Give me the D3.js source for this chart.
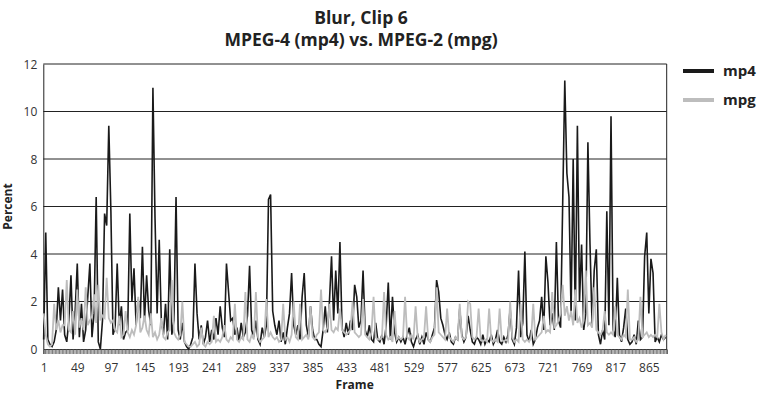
<!DOCTYPE html>
<html>
<head>
<meta charset="utf-8">
<script src="https://cdn.jsdelivr.net/npm/d3@7"></script>
<style>
  body { margin: 0; background: #fff; }
  text { font-family: 'Open Sans', sans-serif; }
</style>
</head>
<body>
<svg width="762" height="393"></svg>
<script>
// values, one point every 3 frames (frame 1, 4, 7, ...)
const mp4 = [
  0.4,4.9,0.4,0.2,0.1,0.3,0.8,2.6,1.2,2.5,
  0.6,0.3,1.2,3.1,0.4,1.6,3.6,0.5,1.9,0.3,
  0.8,2.2,3.6,0.5,1.5,6.4,0.3,0.0,1.2,5.7,
  5.2,9.4,5.8,0.6,0.9,3.6,1.0,1.8,0.4,0.7,
  0.8,5.7,2.0,3.4,1.0,2.1,1.3,4.3,1.2,3.1,
  1.6,1.0,11.0,5.5,1.5,4.6,1.2,0.6,1.9,0.4,
  4.2,0.6,1.2,6.4,0.8,0.4,1.1,0.3,0.1,0.0,
  0.2,0.5,3.6,1.5,0.4,1.0,0.2,0.5,1.2,0.3,
  0.8,0.4,1.3,0.6,1.8,0.9,0.5,3.6,2.4,1.2,
  1.3,0.6,0.9,0.3,1.1,0.5,0.7,1.4,3.5,0.8,
  0.5,1.2,0.4,0.2,0.9,0.5,1.0,6.3,6.5,1.6,
  1.0,0.6,1.2,0.3,0.7,0.2,0.9,1.5,3.2,1.0,
  0.6,1.0,0.4,2.2,3.2,1.0,0.5,1.8,0.8,0.4,
  0.4,0.2,0.1,0.8,1.8,0.7,2.0,3.9,1.2,3.3,
  1.5,4.5,0.9,0.5,1.1,0.6,1.2,0.8,2.7,2.2,
  0.9,1.2,3.3,0.8,0.5,1.0,0.4,0.3,1.1,0.4,
  0.3,0.6,0.2,1.0,2.8,0.4,2.2,0.7,0.3,0.5,
  0.3,0.5,0.2,0.6,0.9,0.3,0.1,0.4,0.6,0.2,
  0.5,0.2,0.7,0.4,0.3,0.6,0.9,2.9,2.4,1.3,
  1.0,0.6,0.4,0.7,0.3,0.2,0.5,0.4,1.7,0.6,
  0.3,0.5,1.4,0.8,0.3,0.2,0.5,0.4,0.2,0.6,
  0.2,0.4,0.3,0.6,0.2,0.4,0.8,0.3,0.2,0.5,
  0.3,0.6,1.7,0.4,0.2,0.9,3.3,0.5,1.1,4.1,
  0.6,0.3,0.8,0.2,0.4,0.9,1.2,2.2,0.8,3.9,
  2.8,1.0,1.5,0.8,4.5,1.2,0.9,6.1,11.3,7.4,
  6.4,1.5,8.0,1.2,9.4,2.0,4.4,0.8,1.5,8.7,
  4.4,1.0,3.3,4.2,0.6,0.2,0.8,0.4,5.8,1.0,
  9.8,0.8,0.5,3.0,0.6,0.3,0.9,1.7,0.4,0.2,
  0.3,0.6,0.2,1.2,0.4,0.5,3.9,4.9,1.5,3.8,
  3.2,0.3,0.5,0.3,0.6,0.4,0.5
];

const mpg = [
  1.5,0.6,0.2,0.1,0.2,1.9,0.8,1.2,0.7,1.0,
  1.0,2.9,0.8,0.7,1.6,0.6,2.5,0.9,1.3,0.8,
  2.6,1.0,1.2,1.4,2.3,1.1,2.7,1.2,1.4,1.3,
  3.0,1.3,1.1,1.2,0.8,0.7,1.4,0.5,0.6,1.6,
  0.7,0.5,0.8,0.6,1.0,2.2,0.7,0.9,1.4,0.8,
  0.6,1.5,0.5,0.7,0.4,0.6,1.3,0.5,0.4,0.7,
  0.8,2.9,0.7,0.5,0.4,0.6,2.0,0.3,0.2,0.1,
  0.1,0.2,0.3,0.1,0.2,0.9,0.2,0.1,0.3,0.2,
  0.3,1.4,0.3,0.4,0.3,0.5,1.0,0.4,0.3,0.5,
  0.4,1.9,0.4,0.3,0.5,0.4,2.4,0.4,0.3,0.6,
  0.4,2.4,0.5,0.3,0.4,0.5,2.1,0.5,0.7,0.5,
  0.4,0.5,0.3,0.4,1.9,0.4,0.5,0.3,0.6,2.0,
  0.5,0.4,1.9,0.4,0.5,0.6,0.4,1.8,0.5,0.4,
  0.6,0.7,2.5,0.8,0.7,0.9,1.9,0.8,0.7,0.9,
  0.8,1.7,0.8,0.7,0.6,0.7,0.8,2.0,0.7,0.6,
  0.5,0.6,2.1,0.6,0.5,0.4,0.7,2.2,0.5,0.4,
  0.4,0.5,2.4,0.6,0.4,0.5,0.3,1.6,0.4,0.5,
  0.4,0.5,2.2,0.5,0.4,0.6,0.4,1.8,0.5,0.3,
  0.4,0.5,1.8,0.4,0.3,0.5,0.6,2.6,0.7,0.6,
  0.5,0.4,1.7,0.5,0.4,0.3,0.5,0.4,1.9,0.5,
  0.4,0.5,2.0,1.9,0.5,0.4,0.5,1.7,0.4,0.3,
  0.4,0.3,1.7,0.4,0.3,0.4,0.3,1.7,0.4,0.3,
  0.4,0.3,2.0,0.5,0.3,0.4,0.3,1.9,0.4,0.3,
  0.4,0.3,0.5,1.9,0.4,0.5,0.6,0.7,1.4,0.7,
  0.8,0.7,2.4,0.9,1.0,1.2,1.5,2.7,1.4,1.8,
  1.2,1.6,1.0,2.5,1.1,1.3,0.9,1.2,3.3,1.0,
  1.1,0.9,2.6,0.8,0.7,0.6,0.8,1.6,0.7,0.6,
  0.7,0.6,1.8,0.6,0.5,0.4,0.6,0.5,2.5,0.4,
  0.4,0.5,0.3,0.4,2.2,0.5,0.6,0.7,0.5,0.6,
  0.5,0.6,0.5,1.9,0.7,0.4,0.6
];

const frameStep = 3;
const frameCount = 890;
const xTickLabels = [1,49,97,145,193,241,289,337,385,433,481,529,577,625,673,721,769,817,865];
const yTickValues = [0,2,4,6,8,10,12];

const seriesNames = ['mp4', 'mpg'];
const seriesColor = { mp4: '#1a1a1a', mpg: '#bdbdbd' };

const svg = d3.select('svg');
const margin = { top: 64, left: 43.3 };
const innerWidth = 666.7 - margin.left;
const innerHeight = 349 - margin.top;

const g = svg.append('g')
  .attr('transform', `translate(${margin.left},${margin.top})`);

const xScale = d3.scaleLinear()
  .domain([0.5, frameCount + 0.5])
  .range([0, innerWidth]);

const yScale = d3.scaleLinear()
  .domain([0, 12])
  .range([innerHeight, 0]);

// gridlines
g.selectAll('.grid').data(yTickValues.filter(d => d > 0))
  .enter().append('line')
    .attr('class', 'grid')
    .attr('x1', 0)
    .attr('x2', innerWidth)
    .attr('y1', d => yScale(d))
    .attr('y2', d => yScale(d))
    .attr('stroke', '#222')
    .attr('stroke-width', 1);

// right border
g.append('line')
  .attr('x1', innerWidth).attr('x2', innerWidth)
  .attr('y1', 0).attr('y2', innerHeight)
  .attr('stroke', '#222');

// y axis
const yAxis = d3.axisLeft(yScale)
  .tickValues(yTickValues)
  .tickSize(0)
  .tickPadding(6);
const yAxisG = g.append('g').call(yAxis);
yAxisG.select('.domain').attr('stroke', '#222');
yAxisG.selectAll('text')
  .attr('dy', null)
  .attr('y', 4)
  .attr('font-size', 12)
  .attr('fill', '#333');

// x axis: small ticks on every other frame
const minorAxis = d3.axisBottom(xScale)
  .tickValues(d3.range(1, frameCount + 1, 2))
  .tickSize(5)
  .tickFormat('');
const minorG = g.append('g')
  .attr('transform', `translate(0,${innerHeight})`)
  .call(minorAxis);
minorG.selectAll('.tick text').remove();
minorG.selectAll('.tick line')
  .attr('stroke', '#555')
  .attr('stroke-width', 0.8);
minorG.select('.domain').attr('stroke', '#222');

const xAxis = d3.axisBottom(xScale)
  .tickValues(xTickLabels)
  .tickSize(0)
  .tickPadding(10)
  .tickFormat(d3.format('d'));
const xAxisG = g.append('g')
  .attr('transform', `translate(0,${innerHeight})`)
  .call(xAxis);
xAxisG.select('.domain').remove();
xAxisG.selectAll('text')
  .attr('dy', null)
  .attr('y', 23)
  .attr('font-size', 12)
  .attr('fill', '#333');

// lines
const line = d3.line()
  .x((d, i) => xScale(1 + i * frameStep))
  .y(d => yScale(d));

const seriesData = { mp4: mp4, mpg: mpg };
seriesNames.forEach(name => {
  g.append('path')
    .datum(seriesData[name])
    .attr('fill', 'none')
    .attr('stroke', seriesColor[name])
    .attr('stroke-width', name === 'mp4' ? 1.6 : 1.8)
    .attr('d', line);
});

// axis titles
g.append('text')
  .attr('transform', `translate(${-31},${innerHeight / 2}) rotate(-90)`)
  .attr('text-anchor', 'middle')
  .attr('font-size', 12)
  .attr('font-weight', 'bold')
  .attr('fill', '#222')
  .text('Percent');

g.append('text')
  .attr('x', xScale(445))
  .attr('y', innerHeight + 40)
  .attr('text-anchor', 'middle')
  .attr('font-size', 12)
  .attr('font-weight', 'bold')
  .attr('fill', '#222')
  .text('Frame');

// title
svg.append('text')
  .attr('x', 361)
  .attr('y', 24)
  .attr('text-anchor', 'middle')
  .attr('font-size', 17.5)
  .attr('font-weight', 'bold')
  .attr('fill', '#222')
  .text('Blur, Clip 6');
svg.append('text')
  .attr('x', 361)
  .attr('y', 46)
  .attr('text-anchor', 'middle')
  .attr('font-size', 17.5)
  .attr('font-weight', 'bold')
  .attr('fill', '#222')
  .text('MPEG-4 (mp4) vs. MPEG-2 (mpg)');

// legend
const legend = svg.append('g').attr('transform', 'translate(683,71)');
seriesNames.forEach((name, i) => {
  legend.append('line')
    .attr('x1', 0).attr('x2', 31)
    .attr('y1', i * 29).attr('y2', i * 29)
    .attr('stroke', seriesColor[name])
    .attr('stroke-width', 4);
  legend.append('text')
    .attr('x', 40)
    .attr('y', i * 29 + 5)
    .attr('font-size', 15)
    .attr('font-weight', 'bold')
    .attr('fill', '#222')
    .text(name);
});
</script>
</body>
</html>
